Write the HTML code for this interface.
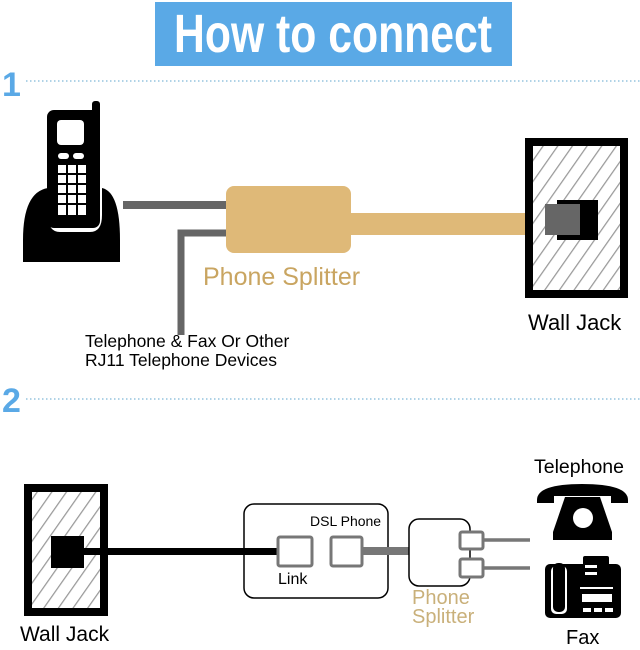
<!DOCTYPE html>
<html><head><meta charset="utf-8"><style>
html,body{margin:0;padding:0;background:#fff;}
svg{display:block;}
text{font-family:"Liberation Sans",sans-serif;}
</style></head><body>
<svg width="640" height="650" viewBox="0 0 640 650" xmlns="http://www.w3.org/2000/svg">
<defs>
<pattern id="h" width="12" height="12" patternUnits="userSpaceOnUse" patternTransform="rotate(35)">
<rect width="12" height="12" fill="#fff"/>
<line x1="0" y1="0" x2="0" y2="12" stroke="#999" stroke-width="2.5"/>
</pattern>
</defs>
<rect x="155" y="2" width="357" height="64" fill="#5aa9e6"/>
<text x="333" y="52" text-anchor="middle" font-family="Liberation Sans Narrow, Liberation Sans, sans-serif" font-weight="bold" font-size="54" fill="#fff" textLength="318" lengthAdjust="spacingAndGlyphs">How to connect</text>
<text x="2" y="96" font-weight="bold" font-size="34" fill="#5aa9e6" font-family="Liberation Sans Narrow, Liberation Sans, sans-serif">1</text>
<line x1="26" y1="81" x2="640" y2="81" stroke="#7fb8d8" stroke-width="1.2" stroke-dasharray="1.5 2.5"/>
<path d="M23 240 Q23 192 48 188 L48 215 Q48 232 60 232 L90 232 Q102 232 102 215 L102 188 Q120 192 120 240 L120 262 L23 262 Z" fill="#000"/>
<rect x="47" y="110" width="53" height="118" rx="7" fill="#000"/>
<rect x="92" y="101" width="8" height="20" rx="3" fill="#000"/>
<rect x="57" y="120" width="27" height="25" rx="4" fill="#fff"/>
<rect x="58" y="153" width="11" height="6" rx="3" fill="#fff"/>
<rect x="73" y="153" width="11" height="6" rx="3" fill="#fff"/>
<g fill="#fff">
<rect x="58" y="165" width="8" height="8"/><rect x="68" y="165" width="8" height="8"/><rect x="78" y="165" width="8" height="8"/>
<rect x="58" y="175" width="8" height="8"/><rect x="68" y="175" width="8" height="8"/><rect x="78" y="175" width="8" height="8"/>
<rect x="58" y="185" width="8" height="8"/><rect x="68" y="185" width="8" height="8"/><rect x="78" y="185" width="8" height="8"/>
<rect x="58" y="195" width="8" height="8"/><rect x="68" y="195" width="8" height="8"/><rect x="78" y="195" width="8" height="8"/>
<rect x="58" y="205" width="8" height="10"/><rect x="68" y="205" width="8" height="10"/><rect x="78" y="205" width="8" height="10"/>
</g>
<rect x="123" y="201" width="105" height="8" fill="#666"/>
<path d="M228 233 L181 233 L181 335" fill="none" stroke="#666" stroke-width="7"/>
<rect x="350" y="213" width="200" height="22" fill="#dfb978"/>
<rect x="226" y="186" width="125" height="67" rx="8" fill="#dfb978"/>
<text x="203" y="285" font-size="25" fill="#c9a561">Phone Splitter</text>
<rect x="529" y="142" width="95" height="152" fill="url(#h)" stroke="#000" stroke-width="8"/>
<rect x="557" y="200" width="41" height="40" fill="#000"/>
<rect x="545" y="204" width="35" height="31" fill="#666"/>
<text x="528" y="330" font-size="22" fill="#000">Wall Jack</text>
<text x="85" y="347" font-size="17.5" fill="#000">Telephone &amp; Fax Or Other</text>
<text x="85" y="366" font-size="17.5" fill="#000">RJ11 Telephone Devices</text>
<text x="2" y="412" font-weight="bold" font-size="34" fill="#5aa9e6" font-family="Liberation Sans Narrow, Liberation Sans, sans-serif">2</text>
<line x1="26" y1="399" x2="640" y2="399" stroke="#7fb8d8" stroke-width="1.2" stroke-dasharray="1.5 2.5"/>
<rect x="28" y="488" width="76" height="124" fill="url(#h)" stroke="#000" stroke-width="8"/>
<rect x="51" y="536" width="33" height="32" fill="#000"/>
<rect x="84" y="548" width="194" height="7" fill="#000"/>
<text x="20" y="641" font-size="21" fill="#000">Wall Jack</text>
<rect x="244" y="504" width="144" height="94" rx="10" fill="none" stroke="#000" stroke-width="1.5"/>
<rect x="278" y="537" width="34" height="29" rx="2" fill="#fff" stroke="#777" stroke-width="3"/>
<rect x="331" y="537" width="31" height="29" rx="2" fill="#fff" stroke="#777" stroke-width="3"/>
<text x="310" y="526" font-size="14" fill="#000">DSL Phone</text>
<text x="278" y="584" font-size="16" fill="#000">Link</text>
<rect x="362" y="547" width="48" height="8" fill="#777"/>
<rect x="409" y="519" width="61" height="67" rx="10" fill="#fff" stroke="#000" stroke-width="1.5"/>
<rect x="460" y="532" width="23" height="17" rx="2" fill="#fff" stroke="#777" stroke-width="3"/>
<rect x="460" y="559" width="23" height="18" rx="2" fill="#fff" stroke="#777" stroke-width="3"/>
<line x1="483" y1="540" x2="530" y2="540" stroke="#777" stroke-width="3.5"/>
<line x1="483" y1="568" x2="530" y2="568" stroke="#777" stroke-width="3.5"/>
<text x="412" y="604" font-size="20" fill="#c9b07a">Phone</text>
<text x="412" y="623" font-size="20" fill="#c9b07a">Splitter</text>
<text x="534" y="473" font-size="19.5" fill="#000">Telephone</text>
<path d="M537 500 Q537 484 582 484 Q628 484 628 500 L628 503 L611 503 L611 496 L554 496 L554 503 L537 503 Z" fill="#000"/>
<path d="M565 497 L600 497 L612 532 L612 540 L553 540 L553 532 Z" fill="#000"/>
<circle cx="583" cy="518" r="10" fill="#fff"/>
<rect x="545" y="564" width="76" height="54" rx="5" fill="#000"/>
<rect x="551" y="566" width="16" height="48" rx="5" fill="#fff"/>
<rect x="553" y="563" width="12" height="49" rx="5" fill="#000"/>
<rect x="583" y="556" width="26" height="32" rx="2" fill="#000"/>
<rect x="585" y="565" width="12" height="3" fill="#fff"/>
<rect x="585" y="572" width="12" height="3" fill="#fff"/>
<rect x="580" y="587" width="33" height="2" fill="#fff"/>
<rect x="582" y="594" width="30" height="8" fill="#fff"/>
<rect x="583" y="608" width="8" height="4" fill="#fff"/><rect x="594" y="608" width="8" height="4" fill="#fff"/><rect x="605" y="608" width="8" height="4" fill="#fff"/>
<text x="566" y="644" font-size="20" fill="#000">Fax</text>
</svg>
</body></html>
